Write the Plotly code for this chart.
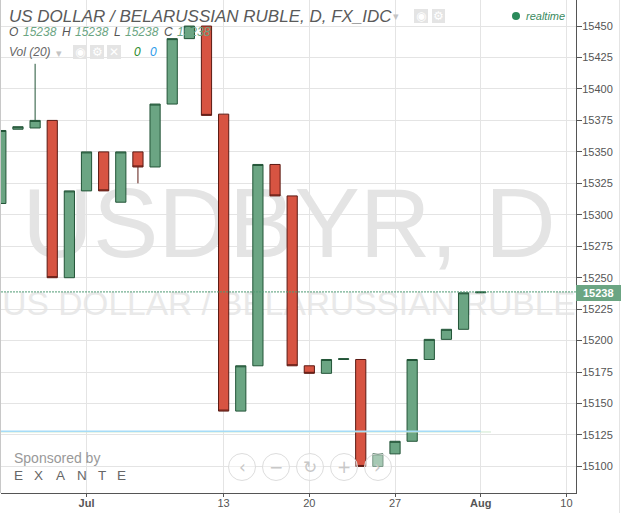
import plotly.graph_objects as go

W, H = 621, 513
ML, MR, MT, MB = 1, 45, 0, 20
PW, PH = W - ML - MR, H - MT - MB

day_index = list(range(-5, 24))
opens  = [15309, 15368, 15369, 15375, 15250, 15319, 15350, 15310, 15350, 15338, 15388, 15440, 15450, 15380, 15144, 15180, 15340, 15315, 15180, 15174, 15185, 15185, 15100, 15110, 15120, 15185, 15201, 15209, 15238]
closes = [15367, 15370, 15375, 15250, 15319, 15350, 15319, 15350, 15338, 15388, 15440, 15450, 15379, 15144, 15180, 15340, 15315, 15180, 15174, 15185, 15185.6, 15100, 15110, 15120, 15185, 15201, 15209, 15238, 15238.6]
highs  = [15367, 15370, 15420, 15375, 15319, 15350, 15350, 15350, 15350, 15388, 15440, 15450, 15450, 15380, 15180, 15340, 15340, 15315, 15180, 15185, 15185.6, 15185, 15110, 15120, 15185, 15201, 15209, 15238, 15238.6]
lows   = [15309, 15368, 15369, 15250, 15250, 15319, 15319, 15310, 15325, 15338, 15388, 15440, 15379, 15144, 15144, 15180, 15315, 15180, 15174, 15174, 15185, 15100, 15100, 15110, 15120, 15185, 15201, 15209, 15238]

x_ticks = [0, 8, 13, 18, 23, 28]
x_labels = ["<b>Jul</b>", "13", "20", "27", "<b>Aug</b>", "10"]
y_ticks = list(range(15100, 15451, 25))
x_range = [-4.99, 28.56]
y_range = [15078.9, 15470.7]

last_price = 15238
vol_level = 15128
vol_ma_level = 15127.4

GREEN, GREEN_D = "#6ba583", "#225437"
RED, RED_D = "#d75442", "#5b1a13"
TXT = "#555555"
FONT = "Liberation Sans"

def px(x): return (x - ML) / PW
def py(y): return 1 - (y - MT) / PH

fig = go.Figure()
fig.add_trace(go.Candlestick(
    x=day_index, open=opens, high=highs, low=lows, close=closes,
    increasing=dict(fillcolor=GREEN, line=dict(color=GREEN_D, width=1)),
    decreasing=dict(fillcolor=RED, line=dict(color=RED_D, width=1)),
    whiskerwidth=0, hoverinfo="skip", showlegend=False))

shapes = []
for text, size, yy, col in [("USDBYR, D", 98, 214, "#e4e4e4"), ("US DOLLAR / BELARUSSIAN RUBLE", 33.5, 300, "#e9e9e9")]:
    shapes.append(dict(type="rect", xref="paper", yref="paper", x0=px(20), x1=px(558),
                       y0=py(yy - 40), y1=py(yy + 40), line=dict(width=0), fillcolor="rgba(0,0,0,0)", layer="below",
                       label=dict(text=text, textposition="middle center",
                                  font=dict(family=FONT, size=size, color=col))))
shapes.append(dict(type="line", xref="x", yref="y", x0=x_range[0], x1=23.6, y0=vol_ma_level, y1=vol_ma_level,
                   line=dict(color="#cfe8cf", width=1)))
shapes.append(dict(type="line", xref="x", yref="y", x0=x_range[0], x1=23, y0=vol_level, y1=vol_level,
                   line=dict(color="#a6dcf7", width=1.5)))
shapes.append(dict(type="line", xref="x", yref="y", x0=x_range[0], x1=x_range[1], y0=last_price + 0.7, y1=last_price + 0.7,
                   line=dict(color="#4f9a74", width=1, dash="2px,1px")))
shapes.append(dict(type="line", xref="paper", yref="paper", x0=px(0.5), x1=px(0.5), y0=py(0), y1=py(493),
                   line=dict(color="#c8c8c8", width=1)))
shapes.append(dict(type="line", xref="paper", yref="paper", x0=px(619.5), x1=px(619.5), y0=py(0), y1=py(513),
                   line=dict(color="#e4e4e4", width=1)))
shapes.append(dict(type="rect", xref="paper", yref="paper", x0=px(576), x1=px(621), y0=py(285), y1=py(301),
                   fillcolor=GREEN, line=dict(width=0)))
for cx in [242, 276, 310, 344, 378]:
    shapes.append(dict(type="circle", xref="paper", yref="paper", x0=px(cx - 13.5), x1=px(cx + 13.5),
                       y0=py(467 + 13.5), y1=py(467 - 13.5), fillcolor="rgba(255,255,255,0.4)",
                       line=dict(color="#dddddd", width=1)))
for x0, x1, y0, y1 in [(73, 87, 45, 59), (90, 104, 45, 59), (107, 121, 45, 59), (414, 428, 9, 23), (432, 445, 9, 23)]:
    shapes.append(dict(type="rect", xref="paper", yref="paper", x0=px(x0), x1=px(x1), y0=py(y0), y1=py(y1),
                       fillcolor="#e4e4e4", line=dict(width=0)))
shapes.append(dict(type="circle", xref="paper", yref="paper", x0=px(512), x1=px(520), y0=py(20), y1=py(12),
                   fillcolor="#2a8a5a", line=dict(width=0)))

ann = []
def note(x, y, text, size=12, color=TXT, style="normal", anchor="left", family=FONT):
    ann.append(dict(xref="paper", yref="paper", x=px(x), y=py(y), text=text, showarrow=False,
                    xanchor=anchor, yanchor="middle", xshift=-2 if anchor == "left" else 0,
                    font=dict(family=family, size=size, color=color, style=style)))

note(9, 16, "US DOLLAR / BELARUSSIAN RUBLE, D, FX_IDC", 17, "#5a5a5a", "italic")
for x, lab in [(9, "O"), (62, "H"), (114, "L"), (164, "C")]:
    note(x, 32, lab, 12, TXT, "italic")
for x in [23, 75, 125, 177]:
    note(x, 32, str(last_price), 12, GREEN, "italic")
note(9, 52, "Vol (20)", 12, "#666666", "italic")
note(134, 52, "0", 12, "#2a8a2a", "italic")
note(150, 52, "0", 12, "#2a9aea", "italic")
note(396, 17, "▾", 11, "#c4c4c4", family="DejaVu Sans", anchor="center")
note(59, 53, "▾", 11, "#c4c4c4", family="DejaVu Sans", anchor="center")
for x, y, g in [(80, 52, "◉"), (97, 52, "⚙"), (114, 52, "✕"), (421, 16, "◉"), (438.5, 16, "⚙")]:
    note(x, y, g, 12, "#ffffff", family="DejaVu Sans", anchor="center")
note(526, 16, "realtime", 11, "#3a8a60", "italic")
note(14, 458, "Sponsored by", 14, "#999999")
for x, letter in zip([18, 38, 60, 81.5, 102, 121], "EXANTE"):
    note(x, 475, letter, 13.5, "#666666", anchor="center")
note(583, 293, f"<b>{last_price}</b>", 11, "#ffffff")
for cx, g in [(242, "‹"), (276, "−"), (310, "↻"), (344, "+"), (378, "›")]:
    note(cx, 467, g, 17, "#c8c8c8", family="DejaVu Sans", anchor="center")

fig.update_layout(
    width=W, height=H, margin=dict(l=ML, r=MR, t=MT, b=MB),
    paper_bgcolor="white", plot_bgcolor="rgba(0,0,0,0)", boxgap=0.15,
    shapes=shapes, annotations=ann, showlegend=False,
    font=dict(family=FONT, size=11, color=TXT),
    xaxis=dict(range=x_range, tickvals=x_ticks, ticktext=x_labels, showgrid=True, gridcolor="#e4e4e4", gridwidth=1,
               zeroline=False, rangeslider=dict(visible=False), showline=True, linecolor=TXT, linewidth=1,
               ticks="outside", ticklen=3, tickcolor=TXT, tickfont=dict(size=11, color=TXT), ticklabelstandoff=-3),
    yaxis=dict(range=y_range, tickvals=y_ticks, side="right", showgrid=True, gridcolor="#e4e4e4", gridwidth=1,
               zeroline=False, showline=True, linecolor=TXT, linewidth=1, ticks="outside", ticklen=5,
               tickcolor=TXT, tickformat="d", tickfont=dict(size=11, color=TXT), ticklabelstandoff=-2),
)

fig.write_html("out.html", config=dict(displayModeBar=False),
               post_script="document.body.style.margin='0';document.body.style.overflow='hidden';")
